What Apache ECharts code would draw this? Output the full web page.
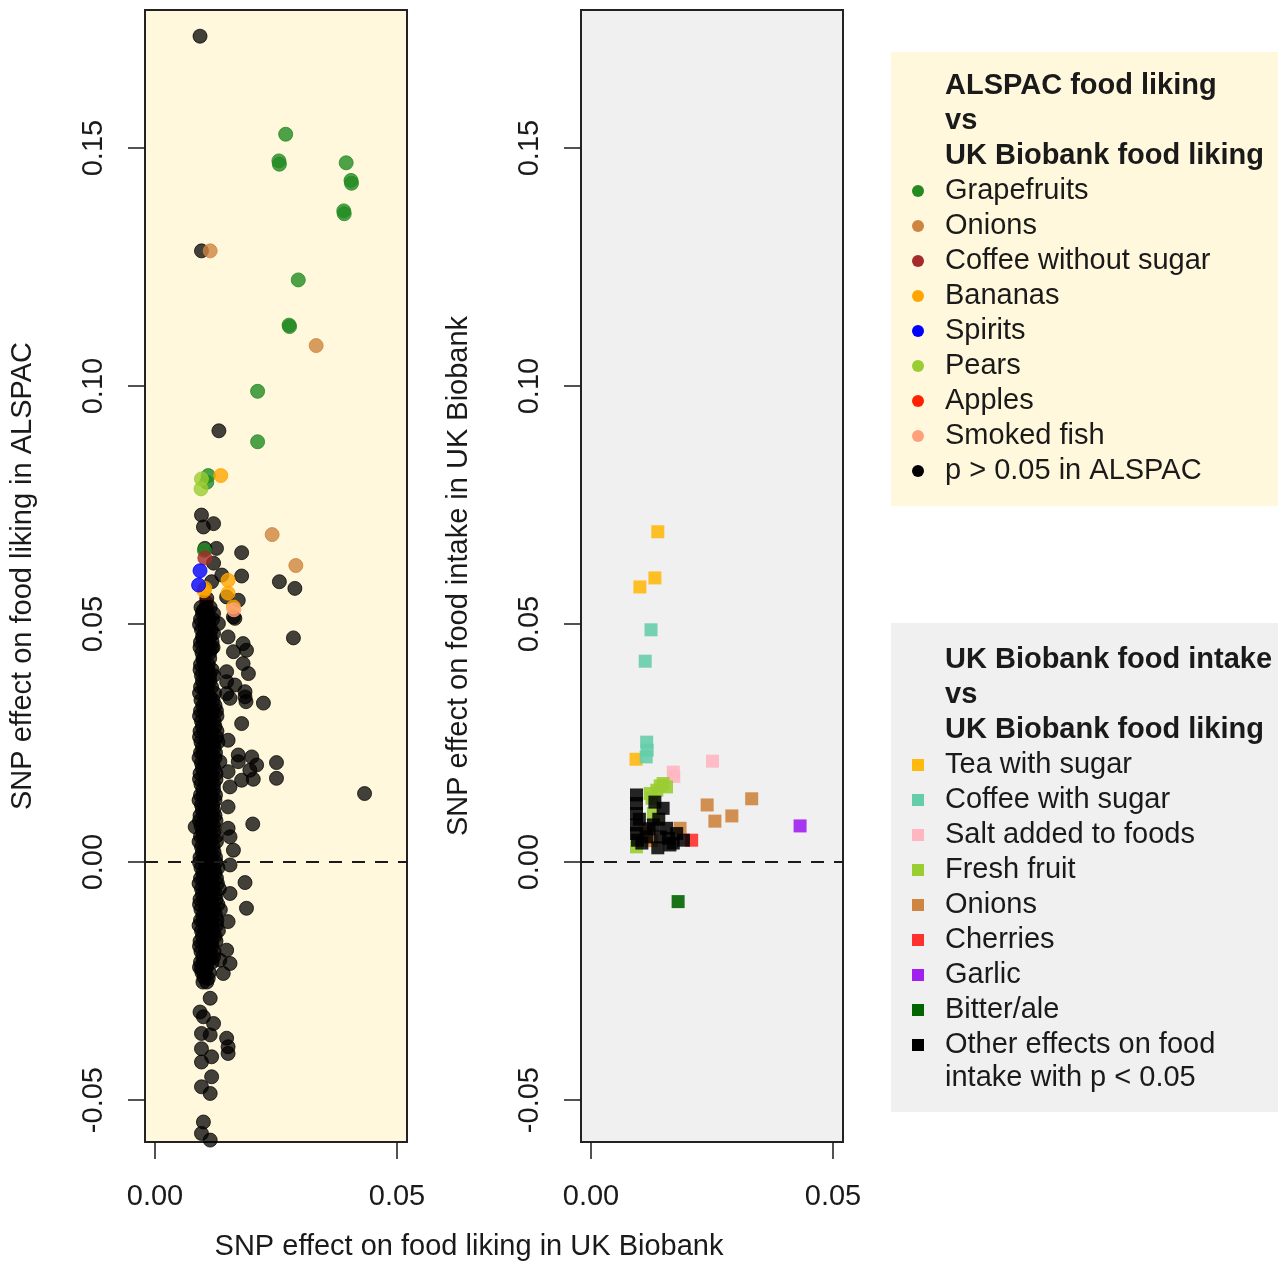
<!DOCTYPE html>
<html>
<head>
<meta charset="utf-8">
<script src="https://cdn.jsdelivr.net/npm/echarts@6/dist/echarts.min.js"></script>
<style>
html, body { margin: 0; padding: 0; background: #fff; }
#main { width: 1278px; height: 1263px; }
</style>
</head>
<body>
<div id="main"></div>
<script>
// axis ranges and ticks
var xRange = [-0.00207, 0.05207];
var yRange = [-0.0588, 0.1790];
var xTicks = [0, 0.05];
var yTicks = [-0.05, 0, 0.05, 0.10, 0.15];

// ---- left panel: ALSPAC liking vs UK Biobank liking ----
var grapefruits = [[0.0270,0.1529],[0.0256,0.1473],[0.0257,0.1466],[0.0395,0.1469],[0.0405,0.1432],[0.0406,0.1426],
  [0.0390,0.1368],[0.0391,0.1362],[0.0296,0.1223],[0.0277,0.1128],[0.0278,0.1125],[0.0212,0.0989],[0.0212,0.0883],
  [0.0110,0.0812],[0.0107,0.0798],[0.0102,0.0655]];
var onionsL = [[0.0114,0.1284],[0.0333,0.1085],[0.0242,0.0688],[0.0291,0.0623]];
var coffeeNoSugar = [[0.0103,0.0639]];
var bananas = [[0.0136,0.0812],[0.0103,0.0575],[0.0101,0.0570],[0.0151,0.0592],[0.0151,0.0565],[0.0162,0.0536]];
var spirits = [[0.0093,0.0612],[0.0090,0.0582]];
var pears = [[0.0096,0.0805],[0.0095,0.0784]];
var apples = [[0.0106,0.0545]];
var smokedFish = [[0.0163,0.0530]];
var notSig = [
  [0.0093,0.1735],[0.0096,0.1284],[0.0132,0.0906],
  [0.0096,0.0729],[0.0100,0.0704],[0.0121,0.0711],[0.0103,0.0659],[0.0127,0.0659],[0.0179,0.0650],[0.0121,0.0628],
  [0.0138,0.0603],[0.0179,0.0601],[0.0117,0.0589],[0.0257,0.0589],[0.0289,0.0575],[0.0107,0.0554],[0.0172,0.0550],
  [0.0148,0.0557],[0.0162,0.0515],[0.0100,0.0529],[0.0121,0.0522],[0.0165,0.0512],[0.0103,0.0494],[0.0131,0.0501],
  [0.0098,0.0473],[0.0121,0.0480],[0.0151,0.0473],[0.0286,0.0471],[0.0117,0.0449],[0.0182,0.0459],[0.0189,0.0445],
  [0.0162,0.0442],[0.0182,0.0417],[0.0148,0.0400],[0.0193,0.0396],[0.0148,0.0379],[0.0165,0.0372],[0.0186,0.0358],
  [0.0148,0.0354],[0.0155,0.0344],[0.0186,0.0347],[0.0188,0.0337],[0.0224,0.0334],[0.0179,0.0291],[0.0151,0.0256],
  [0.0172,0.0225],[0.0200,0.0221],[0.0210,0.0204],[0.0196,0.0193],[0.0172,0.0211],[0.0151,0.0190],[0.0179,0.0172],
  [0.0203,0.0174],[0.0155,0.0158],[0.0251,0.0209],[0.0251,0.0176],[0.0134,0.0211],[0.0151,0.0116],[0.0202,0.0080],
  [0.0151,0.0071],[0.0155,0.0053],[0.0162,0.0025],[0.0155,-0.0006],[0.0186,-0.0043],[0.0433,0.0144],[0.0189,-0.0097],
  [0.0155,-0.0066],[0.0151,-0.0125],[0.0148,-0.0185],[0.0134,-0.0206],[0.0155,-0.0213],[0.0141,-0.0234],
  [0.0110,-0.0244],[0.0096,-0.0224],[0.0083,0.0074],
  [0.0100,0.0424],[0.0103,0.0403],[0.0107,0.0382],[0.0103,0.0361],[0.0114,0.0347],
  [0.0114,-0.0286],[0.0093,-0.0315],[0.0100,-0.0325],[0.0121,-0.0339],[0.0096,-0.0360],[0.0114,-0.0363],
  [0.0148,-0.0370],[0.0151,-0.0388],[0.0151,-0.0402],[0.0096,-0.0392],[0.0117,-0.0409],[0.0096,-0.0420],
  [0.0117,-0.0451],[0.0096,-0.0472],[0.0114,-0.0486],[0.0100,-0.0546],[0.0096,-0.0570],[0.0114,-0.0584],
  // dense column
  [0.0095,0.0535],[0.0106,0.0535],[0.0114,0.0535],
  [0.0094,0.0510],[0.0103,0.0510],[0.0112,0.0510],[0.0119,0.0510],
  [0.0096,0.0488],[0.0108,0.0488],[0.0116,0.0488],
  [0.0094,0.0462],[0.0101,0.0462],[0.0110,0.0462],[0.0118,0.0462],
  [0.0097,0.0440],[0.0105,0.0440],[0.0113,0.0440],
  [0.0094,0.0415],[0.0102,0.0415],[0.0110,0.0415],
  [0.0096,0.0392],[0.0104,0.0392],[0.0113,0.0392],[0.0121,0.0392],
  [0.0094,0.0368],[0.0101,0.0368],[0.0109,0.0368],[0.0117,0.0368],
  [0.0095,0.0340],[0.0104,0.0340],[0.0113,0.0340],[0.0120,0.0340],
  [0.0094,0.0318],[0.0102,0.0318],[0.0110,0.0318],[0.0119,0.0318],[0.0127,0.0318],
  [0.0096,0.0296],[0.0105,0.0296],[0.0112,0.0296],[0.0122,0.0296],
  [0.0093,0.0275],[0.0101,0.0275],[0.0109,0.0275],[0.0118,0.0275],[0.0128,0.0275],
  [0.0095,0.0252],[0.0104,0.0252],[0.0113,0.0252],[0.0121,0.0252],[0.0130,0.0252],
  [0.0094,0.0230],[0.0100,0.0230],[0.0108,0.0230],[0.0116,0.0230],[0.0125,0.0230],
  [0.0096,0.0208],[0.0103,0.0208],[0.0111,0.0208],[0.0119,0.0208],
  [0.0093,0.0186],[0.0101,0.0186],[0.0108,0.0186],[0.0117,0.0186],[0.0126,0.0186],
  [0.0095,0.0163],[0.0104,0.0163],[0.0112,0.0163],[0.0121,0.0163],
  [0.0094,0.0141],[0.0100,0.0141],[0.0109,0.0141],[0.0116,0.0141],[0.0125,0.0141],
  [0.0096,0.0120],[0.0103,0.0120],[0.0111,0.0120],[0.0119,0.0120],
  [0.0093,0.0098],[0.0101,0.0098],[0.0108,0.0098],[0.0117,0.0098],[0.0124,0.0098],
  [0.0095,0.0076],[0.0104,0.0076],[0.0112,0.0076],[0.0121,0.0076],
  [0.0094,0.0054],[0.0100,0.0054],[0.0109,0.0054],[0.0116,0.0054],[0.0126,0.0054],
  [0.0096,0.0032],[0.0103,0.0032],[0.0111,0.0032],[0.0120,0.0032],
  [0.0093,0.0010],[0.0101,0.0010],[0.0108,0.0010],[0.0117,0.0010],[0.0125,0.0010],
  [0.0095,-0.0012],[0.0104,-0.0012],[0.0112,-0.0012],[0.0121,-0.0012],[0.0130,-0.0012],
  [0.0094,-0.0034],[0.0100,-0.0034],[0.0109,-0.0034],[0.0118,-0.0034],[0.0127,-0.0034],
  [0.0096,-0.0056],[0.0103,-0.0056],[0.0111,-0.0056],[0.0120,-0.0056],[0.0133,-0.0056],
  [0.0093,-0.0078],[0.0101,-0.0078],[0.0108,-0.0078],[0.0117,-0.0078],[0.0126,-0.0078],
  [0.0095,-0.0100],[0.0104,-0.0100],[0.0112,-0.0100],[0.0122,-0.0100],[0.0135,-0.0100],
  [0.0094,-0.0122],[0.0100,-0.0122],[0.0109,-0.0122],[0.0118,-0.0122],[0.0128,-0.0122],
  [0.0096,-0.0144],[0.0103,-0.0144],[0.0111,-0.0144],[0.0120,-0.0144],[0.0131,-0.0144],
  [0.0093,-0.0166],[0.0101,-0.0166],[0.0108,-0.0166],[0.0117,-0.0166],[0.0126,-0.0166],
  [0.0095,-0.0188],[0.0104,-0.0188],[0.0113,-0.0188],[0.0122,-0.0188],
  [0.0094,-0.0210],[0.0100,-0.0210],[0.0109,-0.0210],[0.0118,-0.0210],
  [0.0097,-0.0232],[0.0104,-0.0232],[0.0112,-0.0232],
  [0.0099,-0.0252],[0.0107,-0.0252],
  // more of the dense column, between the rows above
  [0.0098,0.0523],[0.0109,0.0523],[0.0092,0.0499],[0.0111,0.0499],[0.0100,0.0475],[0.0114,0.0475],
  [0.0093,0.0451],[0.0108,0.0451],[0.0120,0.0451],[0.0099,0.0428],[0.0113,0.0428],[0.0093,0.0404],
  [0.0109,0.0404],[0.0118,0.0404],[0.0098,0.0380],[0.0113,0.0380],[0.0092,0.0355],[0.0106,0.0355],
  [0.0123,0.0355],[0.0099,0.0329],[0.0108,0.0329],[0.0124,0.0329],[0.0092,0.0307],[0.0107,0.0307],
  [0.0116,0.0307],[0.0128,0.0307],[0.0098,0.0285],[0.0114,0.0285],[0.0124,0.0285],[0.0092,0.0263],
  [0.0107,0.0263],[0.0117,0.0263],[0.0127,0.0263],[0.0098,0.0241],[0.0112,0.0241],[0.0122,0.0241],
  [0.0091,0.0219],[0.0105,0.0219],[0.0115,0.0219],[0.0124,0.0219],[0.0098,0.0197],[0.0112,0.0197],
  [0.0122,0.0197],[0.0092,0.0174],[0.0107,0.0174],[0.0116,0.0174],[0.0126,0.0174],[0.0099,0.0152],
  [0.0112,0.0152],[0.0121,0.0152],[0.0091,0.0130],[0.0106,0.0130],[0.0115,0.0130],[0.0124,0.0130],
  [0.0098,0.0109],[0.0113,0.0109],[0.0121,0.0109],[0.0092,0.0087],[0.0106,0.0087],[0.0116,0.0087],
  [0.0126,0.0087],[0.0099,0.0065],[0.0113,0.0065],[0.0122,0.0065],[0.0091,0.0043],[0.0107,0.0043],
  [0.0116,0.0043],[0.0127,0.0043],[0.0098,0.0021],[0.0113,0.0021],[0.0122,0.0021],[0.0092,-0.0001],
  [0.0106,-0.0001],[0.0114,-0.0001],[0.0126,-0.0001],[0.0099,-0.0023],[0.0113,-0.0023],[0.0124,-0.0023],
  [0.0091,-0.0045],[0.0106,-0.0045],[0.0116,-0.0045],[0.0129,-0.0045],[0.0098,-0.0067],[0.0114,-0.0067],
  [0.0125,-0.0067],[0.0092,-0.0089],[0.0107,-0.0089],[0.0117,-0.0089],[0.0130,-0.0089],[0.0099,-0.0111],
  [0.0113,-0.0111],[0.0125,-0.0111],[0.0091,-0.0133],[0.0106,-0.0133],[0.0116,-0.0133],[0.0127,-0.0133],
  [0.0098,-0.0155],[0.0113,-0.0155],[0.0124,-0.0155],[0.0092,-0.0177],[0.0107,-0.0177],[0.0118,-0.0177],
  [0.0099,-0.0199],[0.0113,-0.0199],[0.0121,-0.0199],[0.0092,-0.0221],[0.0106,-0.0221],[0.0101,-0.0242]
];

// ---- right panel: UK Biobank intake vs UK Biobank liking ----
var teaSugar = [[0.0138,0.0694],[0.0132,0.0597],[0.0101,0.0578],[0.0093,0.0216]];
var coffeeSugar = [[0.0124,0.0488],[0.0112,0.0422],[0.0115,0.0252],[0.0116,0.0235],[0.0114,0.0221]];
var saltAdded = [[0.0251,0.0212],[0.0170,0.0189],[0.0171,0.0180]];
var freshFruit = [[0.0149,0.0165],[0.0156,0.0158],[0.0136,0.0151],[0.0122,0.0144],[0.0143,0.0160],
  [0.0126,0.0134],[0.0129,0.0102],[0.0094,0.0032]];
var onionsR = [[0.0240,0.0120],[0.0332,0.0133],[0.0256,0.0086],[0.0291,0.0097],[0.0184,0.0071],[0.0112,0.0061],[0.0125,0.0045]];
var cherries = [[0.0208,0.0046]];
var garlic = [[0.0432,0.0076]];
var bitterAle = [[0.0180,-0.0083]];
var otherIntake = [[0.0094,0.0141],[0.0094,0.0123],[0.0094,0.0102],[0.0094,0.0078],[0.0094,0.0060],[0.0096,0.0046],
  [0.0132,0.0126],[0.0149,0.0113],[0.0129,0.0078],[0.0156,0.0071],[0.0163,0.0036],[0.0177,0.0060],[0.0191,0.0046],
  [0.0115,0.0053],[0.0143,0.0053],[0.0120,0.0070],[0.0140,0.0090],[0.0105,0.0040],[0.0160,0.0050],[0.0170,0.0040],
  [0.0138,0.0030],[0.0100,0.0090]];

var likingNames = ['Grapefruits','Onions','Coffee without sugar','Bananas','Spirits','Pears','Apples','Smoked fish','p > 0.05 in ALSPAC'];
var likingColors = ['#228B22','#CD853F','#A52A2A','#FFA500','#0000FF','#9ACD32','#FF2200','#FFA07A','#000000'];
var likingData = [grapefruits, onionsL, coffeeNoSugar, bananas, spirits, pears, apples, smokedFish, notSig];

var intakeNames = ['Tea with sugar','Coffee with sugar','Salt added to foods','Fresh fruit','Onions','Cherries','Garlic','Bitter/ale','Other effects on food\nintake with p < 0.05'];
var intakeColors = ['#FFB90F','#66CDAA','#FFB6C1','#9ACD32','#CD853F','#FF3030','#A020F0','#006400','#000000'];
var intakeData = [teaSugar, coffeeSugar, saltAdded, freshFruit, onionsR, cherries, garlic, bitterAle, otherIntake];

var FONT = 'Liberation Sans';
var FS = 29;
var INK = '#1a1a1a';

function fmt(v) { return v.toFixed(2); }

function makeX(i) {
  return {
    gridIndex: i, type: 'value', min: xRange[0], max: xRange[1],
    axisLine: { show: false, onZero: false }, splitLine: { show: false },
    axisTick: { show: true, customValues: xTicks, length: 17, lineStyle: { color: INK, width: 1.5 } },
    axisLabel: { customValues: xTicks, formatter: fmt, margin: 40, fontSize: FS, fontFamily: FONT, color: INK }
  };
}
function makeY(i, title) {
  return {
    gridIndex: i, type: 'value', min: yRange[0], max: yRange[1],
    axisLine: { show: false, onZero: false }, splitLine: { show: false },
    axisTick: { show: true, customValues: yTicks, length: 17, lineStyle: { color: INK, width: 1.5 } },
    axisLabel: { customValues: yTicks, formatter: fmt, rotate: 90, margin: 37, fontSize: FS, fontFamily: FONT, color: INK },
    name: title, nameLocation: 'middle', nameRotate: 90, nameGap: 108,
    nameTextStyle: { fontSize: FS, fontFamily: FONT, color: INK }
  };
}

var series = [];
likingData.forEach(function (d, k) {
  var last = k === likingData.length - 1;
  var s = {
    name: likingNames[k], type: 'scatter', xAxisIndex: 0, yAxisIndex: 0,
    symbol: 'circle', symbolSize: 14, data: d, z: last ? 2 : 3,
    itemStyle: { color: likingColors[k], opacity: last ? 0.74 : 0.8, borderColor: last ? '#000' : likingColors[k], borderWidth: 1 }
  };
  if (likingNames[k] === 'Apples') s.z = 1;
  if (last) {
    s.markLine = {
      silent: true, symbol: 'none', label: { show: false },
      lineStyle: { color: INK, type: [13, 10], width: 2 },
      data: [{ yAxis: 0 }]
    };
  }
  series.push(s);
});
intakeData.forEach(function (d, k) {
  var last = k === intakeData.length - 1;
  var s = {
    name: intakeNames[k], type: 'scatter', xAxisIndex: 1, yAxisIndex: 1,
    symbol: 'rect', symbolSize: 13, data: d, z: last ? 3 : 2,
    itemStyle: { color: intakeColors[k], opacity: last ? 0.85 : 0.9 }
  };
  if (last) {
    s.markLine = {
      silent: true, symbol: 'none', label: { show: false },
      lineStyle: { color: INK, type: [13, 10], width: 2 },
      data: [{ yAxis: 0 }]
    };
  }
  series.push(s);
});

var chart = echarts.init(document.getElementById('main'));
chart.setOption({
  animation: false,
  backgroundColor: '#ffffff',
  grid: [
    { left: 145, top: 10, width: 262, height: 1132, show: true, backgroundColor: '#FFF8DC', borderColor: '#222', borderWidth: 2 },
    { left: 581, top: 10, width: 262, height: 1132, show: true, backgroundColor: '#F0F0F0', borderColor: '#222', borderWidth: 2 }
  ],
  xAxis: [makeX(0), makeX(1)],
  yAxis: [makeY(0, 'SNP effect on food liking in ALSPAC'), makeY(1, 'SNP effect on food intake in UK Biobank')],
  series: series
});

// legends and the shared x title
var g = [];
g.push({ type: 'text', x: 469, y: 1247, style: { text: 'SNP effect on food liking in UK Biobank', fontSize: FS, fontFamily: FONT, fill: INK, align: 'center', verticalAlign: 'middle' } });

function legendBlock(box, titles, names, colors, shape, top) {
  g.push({ type: 'rect', shape: { x: box[0], y: box[1], width: box[2], height: box[3] }, style: { fill: box[4] } });
  var y = top;
  titles.forEach(function (t) {
    g.push({ type: 'text', x: 945, y: y, style: { text: t, fontSize: FS, fontWeight: 'bold', fontFamily: FONT, fill: INK, verticalAlign: 'middle' } });
    y += 35;
  });
  names.forEach(function (n, k) {
    if (shape === 'circle') {
      g.push({ type: 'circle', shape: { cx: 918, cy: y, r: 6 }, style: { fill: colors[k] } });
    } else {
      g.push({ type: 'rect', shape: { x: 912, y: y - 6, width: 12, height: 12 }, style: { fill: colors[k] } });
    }
    var lines = n.split('\n');
    lines.forEach(function (ln, j) {
      g.push({ type: 'text', x: 945, y: y + j * 33, style: { text: ln, fontSize: FS, fontFamily: FONT, fill: INK, verticalAlign: 'middle' } });
    });
    y += 35;
  });
}
legendBlock([891, 52, 387, 454, '#FFF8DC'], ['ALSPAC food liking', 'vs', 'UK Biobank food liking'], likingNames, likingColors, 'circle', 86);
legendBlock([891, 623, 387, 489, '#F0F0F0'], ['UK Biobank food intake', 'vs', 'UK Biobank food liking'], intakeNames, intakeColors, 'rect', 660);

chart.setOption({ graphic: g });
</script>
</body>
</html>
